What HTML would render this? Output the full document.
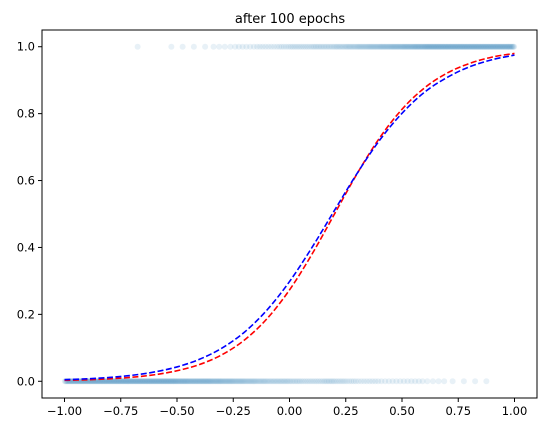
<!DOCTYPE html>
<html><head><meta charset="utf-8"><style>
html,body{margin:0;padding:0;background:#fff;}
svg{display:block;font-family:"DejaVu Sans","Liberation Sans",sans-serif;}
</style></head><body>
<svg id="chart" width="547" height="433" viewBox="0 0 547 433">
<text x="290" y="23" font-size="13" text-anchor="middle">after 100 epochs</text>
<g id="points"></g>
<g id="curves"></g>
<rect x="42" y="30" width="495" height="368" fill="none" stroke="#000" stroke-width="1"/>
<g id="ticks"></g>
</svg>
<script>
const xTicks = [-1.0,-0.75,-0.5,-0.25,0,0.25,0.5,0.75,1.0];
const xTickLabels = ["−1.00","−0.75","−0.50","−0.25","0.00","0.25","0.50","0.75","1.00"];
const yTicks = [0,0.2,0.4,0.6,0.8,1.0];
const yTickLabels = ["0.0","0.2","0.4","0.6","0.8","1.0"];
const curveX = [-1,-0.9,-0.8,-0.7,-0.6,-0.5,-0.4,-0.3,-0.2,-0.1,0,0.1,0.2,0.3,0.4,0.5,0.6,0.7,0.8,0.9,1.0];
const redY = [0.0028,0.0045,0.0074,0.012,0.0195,0.0314,0.0502,0.0794,0.1235,0.187,0.273,0.38,0.5,0.62,0.727,0.813,0.877,0.921,0.95,0.969,0.98];
const blueY = [0.0047,0.0074,0.0115,0.0179,0.0278,0.0429,0.0657,0.0993,0.147,0.213,0.298,0.4,0.511,0.621,0.72,0.801,0.864,0.908,0.94,0.961,0.975];
const zeroCounts = [16,16,16,16,16,16,16,16,16,16,15,14,14,13,12,11,10,9,8,8,7,6,6,7,6,5,4,4,3,3,3,3,2,2,1,1,1,1,0,0];
const oneCounts = [0,0,0,0,0,0,1,0,0,1,1,1,1,2,2,3,3,4,4,5,6,6,7,7,8,9,10,11,12,13,14,15,16,16,16,16,16,16,16,16];

const NS="http://www.w3.org/2000/svg";
const L=42,R=537,T=30,B=398;
const sx=v=>L+(v+1.1)/2.2*(R-L);
const sy=v=>B-(v+0.05)/1.1*(B-T);
function mk(tag,attrs,parent){const e=document.createElementNS(NS,tag);for(const k in attrs)e.setAttribute(k,attrs[k]);parent.appendChild(e);return e;}

const pts=document.getElementById('points');
function drawBins(counts,yv,name){
  counts.forEach((c,i)=>{
    const x0=-1+i*0.05;
    for(let j=0;j<c;j++){
      const xv=x0+(j+0.5)*0.05/c;
      const el=mk('circle',{cx:sx(xv),cy:sy(yv),r:3,fill:'#1f77b4','fill-opacity':0.1},pts);
      
      
    }
  });
}
drawBins(zeroCounts,0,'point-label-0');
drawBins(oneCounts,1,'point-label-1');

const cv=document.getElementById('curves');
function drawCurve(ys,color,name){
  const P=curveX.map((x,i)=>[sx(x),sy(ys[i])]);
  let d='M'+P[0][0].toFixed(2)+' '+P[0][1].toFixed(2);
  for(let i=0;i<P.length-1;i++){
    const p0=P[Math.max(i-1,0)],p1=P[i],p2=P[i+1],p3=P[Math.min(i+2,P.length-1)];
    const c1=[p1[0]+(p2[0]-p0[0])/6,p1[1]+(p2[1]-p0[1])/6];
    const c2=[p2[0]-(p3[0]-p1[0])/6,p2[1]-(p3[1]-p1[1])/6];
    d+='C'+c1[0].toFixed(2)+' '+c1[1].toFixed(2)+' '+c2[0].toFixed(2)+' '+c2[1].toFixed(2)+' '+p2[0].toFixed(2)+' '+p2[1].toFixed(2);
  }
  const el=mk('path',{d:d,fill:'none',stroke:color,'stroke-width':1.6,'stroke-dasharray':'6 2.5'},cv);
  
  
}
drawCurve(redY,'#ff0000','red-curve');
drawCurve(blueY,'#0000ff','blue-curve');

const tk=document.getElementById('ticks');
xTicks.forEach((v,i)=>{
  const x=sx(v);
  const l=mk('line',{x1:x,x2:x,y1:B,y2:B+4,stroke:'#000'},tk);
  
  
  const t=mk('text',{x:x,y:B+17,'font-size':11.5,'text-anchor':'middle'},tk);
  t.textContent=xTickLabels[i];
  
  
});
yTicks.forEach((v,i)=>{
  const y=sy(v);
  const l=mk('line',{x1:L-4,x2:L,y1:y,y2:y,stroke:'#000'},tk);
  
  
  const t=mk('text',{x:L-7,y:y+4,'font-size':11.5,'text-anchor':'end'},tk);
  t.textContent=yTickLabels[i];
  
  
});
</script>
</body></html>
